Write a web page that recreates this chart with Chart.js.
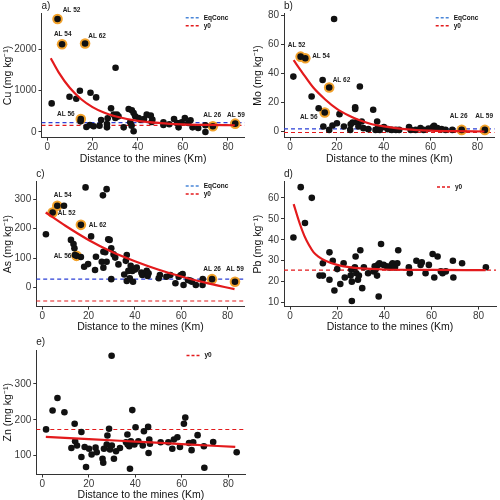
<!DOCTYPE html>
<html>
<head>
<meta charset="utf-8">
<script src="https://cdn.jsdelivr.net/npm/chart.js@4.4.1/dist/chart.umd.min.js"></script>
<style>
  html, body { margin: 0; padding: 0; background: #fff; overflow: hidden; }
  #wrap { position: relative; width: 500px; height: 500px; overflow: hidden; }
  #wrap canvas { position: absolute; }
</style>
</head>
<body>
<div id="wrap">
  <canvas id="chartCu" width="250" height="168" style="left:0;top:0"></canvas>
  <canvas id="chartMo" width="250" height="168" style="left:250px;top:0"></canvas>
  <canvas id="chartAs" width="250" height="168" style="left:0;top:168px"></canvas>
  <canvas id="chartPb" width="250" height="168" style="left:250px;top:168px"></canvas>
  <canvas id="chartZn" width="250" height="168" style="left:0;top:336px"></canvas>
</div>
<script>
// shared x axis
const distTicks = [0, 20, 40, 60, 80];
const distMin = -2.6, distMax = 87.4;

// labelled samples (same sites in Cu, Mo, As)
const hiLabels = ['AL 52', 'AL 54', 'AL 62', 'AL 56', 'AL 26', 'AL 59'];
const hiDist = [4.5, 6.5, 16.7, 14.8, 73.3, 83.2];

// Cu
const cuDist = [1.9, 9.8, 12.8, 14.4, 19.1, 21.6, 30.2, 14.7, 17.3, 18.8, 20.5, 23.1, 23.8, 26.4, 26.4, 26.7, 28.2, 29.4, 30.1, 30.8, 31.5, 33.8, 36, 37.4, 38.2, 38.9, 36.7, 37.3, 38.2, 40.4, 41.1, 42.8, 44, 45.8, 46.5, 46.2, 51.4, 51.4, 54, 56.1, 57.5, 58.1, 59.5, 60.9, 62.4, 63.4, 64.3, 66.8, 70, 70];
const cuConc = [690, 851, 803, 996, 948, 835, 1550, 257, 120, 169, 137, 153, 289, 112, 193, 329, 570, 418, 337, 418, 377, 112, 554, 522, 458, 377, 233, 153, 16, 337, 297, 313, 418, 394, 297, 241, 233, 169, 185, 313, 217, 112, 233, 337, 217, 281, 112, 96, 161, 0];
const cuHi = [2730, 2120, 2136, 313, 137, 201];
const cuFitDist = [1.5, 5, 10, 15, 20, 25, 30, 40, 50, 60, 70, 83];
const cuFit = [1780, 1440, 1060, 790, 600, 470, 380, 270, 215, 185, 170, 162];
const cuEq = 225, cuY0 = 160;
const cuTicks = [0, 1000, 2000];

// Mo
const moDist = [1.4, 9.2, 12.2, 13.9, 14.2, 16.7, 18.1, 18.8, 20, 21.1, 23, 25.7, 25.9, 26.7, 27.8, 27.8, 28.5, 29.8, 29.2, 30.6, 31.3, 33.4, 35.5, 36.5, 37.2, 37.6, 38.3, 40.1, 41.7, 43.4, 45.2, 46.6, 50.8, 51.5, 53.6, 55.7, 57, 59.1, 61, 61.5, 62.9, 64.7, 66.4, 69.3];
const moConc = [37.7, 24, 16, 35.4, 3.4, 1.1, 4.1, 77.3, 5.7, 11.9, 3.4, 1.1, 5, 6.2, 16.7, 15.5, 6.4, 30.9, 3.4, 6.9, 2.3, 1.6, 14.9, 1.1, 6.9, 2.3, 1.1, 3, 1.6, 1.1, 1.1, 1.1, 3, 1.1, 1.1, 2.3, 1.1, 2, 3, 3.9, 2.3, 1.6, 1.1, 1.1];
const moHi = [51.4, 50.3, 30.2, 13, 1.1, 1.1];
const moFitDist = [1.5, 5, 10, 15, 20, 25, 30, 35, 40, 50, 60, 70, 83];
const moFit = [49, 41, 30, 22, 15.5, 11, 7.5, 5, 3.5, 1.5, 0.6, 0.2, 0];
const moEq = 1.8, moY0 = -0.7;
const moTicks = [0, 20, 40, 60, 80];

// As
const asDist = [1.6, 9.4, 12.4, 13.5, 13.9, 14.1, 16.7, 18.1, 18.7, 19.8, 21.1, 22.8, 23.2, 25.7, 26.2, 26.4, 26.4, 27.2, 27.8, 27.8, 28.5, 29.1, 29.8, 29.8, 30.8, 31.5, 32.9, 35.4, 36.1, 36.5, 36.5, 37.2, 37.8, 38.2, 38.9, 39.2, 40.1, 40.8, 42.8, 43.2, 45.1, 45.5, 45.9, 50.3, 50.8, 53.6, 55.3, 57.5, 58.9, 59.9, 60.6, 61, 62.9, 63.9, 64.6, 66.3, 69.2, 69.3];
const asConc = [181, 278, 162, 148, 134, 111, 104, 71, 340, 80, 174, 60, 105, 88, 313, 122, 68, 120, 334, 88, 164, 162, 134, 29, 113, 102, 79, 45, 91, 111, 23, 57, 32, 74, 57, 20, 62, 68, 51, 43, 57, 40, 49, 32, 43, 37, 43, 15, 37, 43, 46, 9, 26, 24, 20, 9, 9, 29];
const asHi = [255, 278, 213, 108, 29, 20];
const asFitDist = [1.5, 10, 20, 30, 40, 50, 60, 70, 83];
const asFit = [255, 210, 162, 122, 90, 62, 38, 18, -5];
const asEq = 29, asY0 = -45;
const asTicks = [0, 100, 200, 300];

// Pb
const pbDist = [1.4, 4.5, 6.3, 9.2, 12.5, 13.9, 13.9, 16.7, 16.7, 18.1, 18.8, 20, 21.3, 22.7, 23.2, 25.7, 26, 26.2, 26.2, 27.5, 27.8, 28.1, 28.8, 29.2, 29.8, 30.6, 31.3, 33.1, 35.5, 35.9, 36.2, 36.9, 37.3, 37.6, 37.9, 38.6, 39.7, 41, 42, 43.1, 43.5, 44.5, 45.5, 45.9, 50.4, 50.8, 53.6, 55.4, 55.9, 57.5, 58.9, 60.5, 61.2, 62.6, 64, 64.7, 66.1, 69.1, 69.3, 73, 83.1];
const pbConc = [41.1, 65.1, 48, 60, 22.9, 22.9, 28.8, 34, 20.9, 30, 15.8, 26, 18.9, 28.8, 22, 22.9, 25.7, 20, 10.8, 26.9, 32, 24, 20.9, 22.9, 35, 16.9, 26.9, 24, 24.9, 27.3, 25.7, 22.9, 28, 12.9, 28.8, 38, 28, 27.3, 26.8, 28, 28.8, 26.8, 28.8, 35, 26.9, 24, 30, 28, 29.2, 24, 28, 33.2, 22, 32, 24.9, 24, 24.9, 30, 22, 28.8, 26.9];
const pbFitDist = [1.5, 4, 6, 8, 10, 12, 15, 20, 25, 30, 40, 60, 83];
const pbFit = [57, 48, 42, 37.5, 34, 32, 30, 28, 26.9, 26.3, 25.8, 25.6, 25.5];
const pbY0 = 25.5;
const pbTicks = [10, 20, 30, 40, 50, 60];

// Zn
const znDist = [1.6, 4.4, 6.5, 9.5, 12.5, 13.9, 14.1, 14.9, 16.8, 16.8, 18.2, 18.8, 20.1, 21.2, 22.9, 23.4, 25.9, 26.2, 26.5, 27.7, 28, 28.7, 29.1, 29.8, 29.9, 30.8, 31.7, 33.4, 36, 36.6, 36.7, 37.4, 37.7, 38.1, 38.7, 39.6, 40.1, 41.3, 43.2, 43.7, 45.5, 45.7, 46, 46.3, 50.9, 54.2, 55.9, 56.6, 58.1, 59.2, 60.9, 61.5, 63.1, 64.2, 64.9, 66.8, 69.5, 69.7, 73.5, 83.6];
const znConc = [173, 226, 261, 221, 121, 189, 140, 128, 166, 96, 124, 68, 119, 103, 122, 109, 91, 80, 119, 131, 156, 175, 117, 379, 128, 91, 112, 121, 137, 159, 131, 126, 63, 140, 227, 131, 179, 140, 128, 168, 180, 107, 145, 133, 137, 137, 119, 145, 151, 124, 189, 206, 135, 115, 137, 157, 126, 66, 138, 109];
const znFitDist = [1.5, 20, 40, 60, 83];
const znFit = [152, 146, 139, 132, 124];
const znY0 = 172.6;
const znTicks = [100, 200, 300];

const FONT = '"Liberation Sans", Arial, sans-serif';
const RED = '#E31A1C';
const BLUE = '#2B3FD6';
const KEYBLUE = '#4A86D8';
const ORANGE = '#F2A22C';

function pts(xs, ys) {
    return xs.map((x, i) => ({ x: x, y: ys[i] }));
}

function hline(v) {
    return [{ x: distMin, y: v }, { x: distMax, y: v }];
}

function decor(p) {
    return {
        id: 'decor',
        afterDatasetsDraw(chart) {
            const ctx = chart.ctx;
            const area = chart.chartArea;
            const xs = chart.scales.x, ys = chart.scales.y;
            ctx.save();
            // sample labels
            if (p.hiY) {
                ctx.font = 'bold 6.5px ' + FONT;
                ctx.fillStyle = '#222';
                ctx.textAlign = 'center';
                ctx.textBaseline = 'middle';
                hiLabels.forEach((lab, i) => {
                    const off = p.labelOffset[i];
                    ctx.fillText(lab, xs.getPixelForValue(hiDist[i]) + off[0], ys.getPixelForValue(p.hiY[i]) + off[1]);
                });
            }
            // legend in top right corner
            const items = p.legend;
            ctx.font = 'bold 6.5px ' + FONT;
            ctx.textAlign = 'left';
            ctx.textBaseline = 'middle';
            items.forEach((it, i) => {
                const y = area.top + (items.length === 2 ? 4.5 + i * 8 : 5.5);
                ctx.strokeStyle = it.color;
                ctx.lineWidth = 1.4;
                ctx.setLineDash([3, 2]);
                ctx.beginPath();
                ctx.moveTo(area.right - 59, y);
                ctx.lineTo(area.right - 45, y);
                ctx.stroke();
                ctx.setLineDash([]);
                ctx.fillStyle = '#111';
                ctx.fillText(it.text, area.right - 41, y);
            });
            // panel tag
            ctx.font = '10px ' + FONT;
            ctx.fillStyle = '#222';
            ctx.textBaseline = 'middle';
            ctx.fillText(p.tag, area.left, 6.5);
            ctx.restore();
        }
    };
}

function makePanel(p) {
    const datasets = [
        {
            data: pts(p.fitX, p.fitY),
            showLine: true,
            borderColor: RED,
            borderWidth: 2.2,
            pointRadius: 0,
            cubicInterpolationMode: 'monotone',
            order: 0
        },
        {
            data: pts(p.dist, p.conc).concat(p.hiY ? pts(hiDist, p.hiY) : []),
            backgroundColor: '#111',
            borderWidth: 0,
            pointRadius: 3.3,
            order: 1
        }
    ];
    if (p.hiY) {
        datasets.push({
            data: pts(hiDist, p.hiY),
            backgroundColor: ORANGE,
            borderWidth: 0,
            pointRadius: 5.3,
            order: 2
        });
    }
    if (p.eq !== undefined) {
        datasets.push({
            data: hline(p.eq),
            showLine: true,
            borderColor: BLUE,
            borderWidth: 1.1,
            borderDash: [4, 3],
            pointRadius: 0,
            order: 3
        });
    }
    datasets.push({
        data: hline(p.y0),
        showLine: true,
        borderColor: RED,
        backgroundColor: RED,
        borderWidth: 1.1,
        borderDash: [4, 3],
        pointRadius: 0,
        order: 3
    });

    const tickSet = (vals) => (scale) => { scale.ticks = vals.map(v => ({ value: v })); };

    return new Chart(document.getElementById(p.canvas), {
        type: 'scatter',
        data: { datasets: datasets },
        options: {
            responsive: false,
            animation: false,
            events: [],
            layout: { padding: { top: p.area[2], right: 250 - p.area[1], left: 0, bottom: 0 } },
            plugins: { legend: { display: false }, tooltip: { enabled: false } },
            scales: {
                x: {
                    type: 'linear',
                    min: distMin,
                    max: distMax,
                    afterBuildTicks: tickSet(distTicks),
                    afterFit: (s) => { s.height = 168 - p.area[3]; },
                    border: { display: true, color: '#333', width: 1 },
                    grid: { drawOnChartArea: false, drawTicks: true, tickLength: 3, color: '#333' },
                    ticks: { color: '#3a3a3a', padding: 1, font: { family: FONT, size: 10 }, maxRotation: 0, callback: (v) => String(v) },
                    title: {
                        display: true,
                        text: 'Distance to the mines (Km)',
                        color: '#111',
                        font: { family: FONT, size: 10.5 },
                        padding: { top: 0, bottom: 3 }
                    }
                },
                y: {
                    type: 'linear',
                    min: p.yMin,
                    max: p.yMax,
                    afterBuildTicks: tickSet(p.ticks),
                    afterFit: (s) => { s.width = p.area[0]; },
                    border: { display: true, color: '#333', width: 1 },
                    grid: { drawOnChartArea: false, drawTicks: true, tickLength: 3, color: '#333' },
                    ticks: { color: '#3a3a3a', padding: 2, font: { family: FONT, size: 10 }, callback: (v) => String(v) },
                    title: {
                        display: true,
                        text: p.yTitle,
                        color: '#111',
                        font: { family: FONT, size: 10.5 },
                        padding: { top: 2, bottom: 0 }
                    }
                }
            }
        },
        plugins: [decor(p)]
    });
}

const twoKeys = [{ text: 'EqConc', color: KEYBLUE }, { text: 'y0', color: RED }];
const oneKey = [{ text: 'y0', color: RED }];

makePanel({
    canvas: 'chartCu', tag: 'a)', yTitle: 'Cu (mg kg\u207B\u00B9)',
    dist: cuDist, conc: cuConc, hiY: cuHi, fitX: cuFitDist, fitY: cuFit,
    eq: cuEq, y0: cuY0, ticks: cuTicks, yMin: -136, yMax: 2866,
    area: [41.5, 246, 13.3, 137.6], legend: twoKeys,
    labelOffset: [[14, -8.3], [0.7, -10.3], [12, -7.7], [-15, -5.3], [-0.7, -10.7], [0.7, -8]]
});
makePanel({
    canvas: 'chartMo', tag: 'b)', yTitle: 'Mo (mg kg\u207B\u00B9)',
    dist: moDist, conc: moConc, hiY: moHi, fitX: moFitDist, fitY: moFit,
    eq: moEq, y0: moY0, ticks: moTicks, yMin: -4.2, yMax: 81.2,
    area: [34, 248.5, 13.3, 137.6], legend: twoKeys,
    labelOffset: [[-4, -11], [15.7, -1.6], [12.3, -7], [-16, 4.6], [-3, -14], [-0.7, -14]]
});
makePanel({
    canvas: 'chartAs', tag: 'c)', yTitle: 'As (mg kg\u207B\u00B9)',
    dist: asDist, conc: asConc, hiY: asHi, fitX: asFitDist, fitY: asFit,
    eq: asEq, y0: asY0, ticks: asTicks, yMin: -64, yMax: 360,
    area: [36.2, 246.6, 13.5, 138.6], legend: twoKeys,
    labelOffset: [[14, 0.6], [5.4, -10.7], [16.7, 0], [-14, 0.7], [0, -10], [0, -12.7]]
});
makePanel({
    canvas: 'chartPb', tag: 'd)', yTitle: 'Pb (mg kg\u207B\u00B9)',
    dist: pbDist, conc: pbConc, fitX: pbFitDist, fitY: pbFit,
    y0: pbY0, ticks: pbTicks, yMin: 8.1, yMax: 67.8,
    area: [34, 248.5, 13.5, 138.6], legend: oneKey
});
makePanel({
    canvas: 'chartZn', tag: 'e)', yTitle: 'Zn (mg kg\u207B\u00B9)',
    dist: znDist, conc: znConc, fitX: znFitDist, fitY: znFit,
    y0: znY0, ticks: znTicks, yMin: 47, yMax: 395,
    area: [36.3, 245.5, 14, 138.5], legend: oneKey
});
</script>
</body>
</html>
